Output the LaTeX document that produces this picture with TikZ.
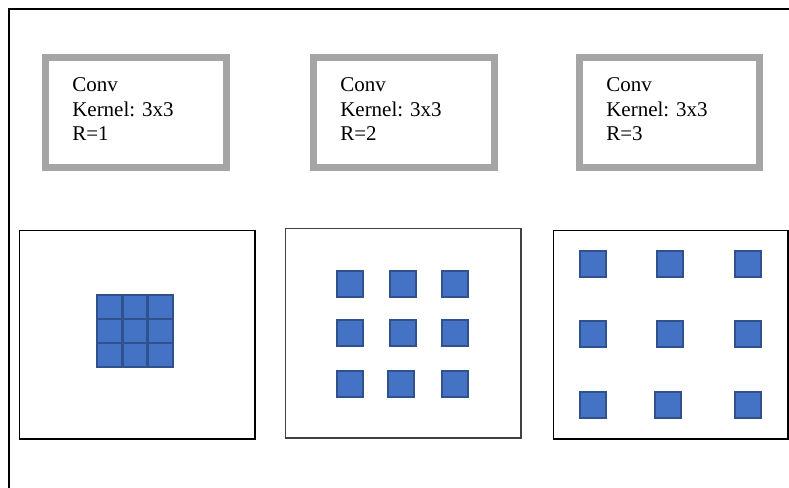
\documentclass[tikz,border=0pt]{standalone}
\usepackage{fontspec}
\setmainfont{Liberation Serif}
\definecolor{cellfill}{HTML}{4472C4}
\definecolor{celledge}{HTML}{2F528F}
\definecolor{convgray}{HTML}{A5A5A5}
\definecolor{mapedge}{HTML}{404040}
\tikzset{
  convbox/.style={draw=convgray, line width=5.25pt, fill=white},
  convtext/.style={anchor=north west, inner sep=0pt, align=left,
    font=\fontsize{15.75pt}{18.4pt}\selectfont},
  mapbox/.style={draw=black, line width=1pt},
  cell/.style={draw=celledge, fill=cellfill, line width=2pt},
}
\newcommand{\cellat}[3]{\draw[cell] (#2,#3) rectangle ++(26,26) node[coordinate] (#1) {};}
\begin{document}
\begin{tikzpicture}[x=0.75pt, y=-0.75pt]
  \useasboundingbox (0,0) rectangle (789,487);
  % open outer frame
  \draw[line width=2pt, line join=miter] (790,9) -- (9,9) -- (9,488);

  % convolution boxes
  \draw[convbox] (45.5,57.5) rectangle (226.5,167.5);
  \node[convtext] (t1) at (72,77.5) {Conv\\Kernel: 3x3\\R=1};
  \draw[convbox] (313.5,57.5) rectangle (494.5,167.5);
  \node[convtext] (t2) at (340,77.5) {Conv\\Kernel: 3x3\\R=2};
  \draw[convbox] (579.5,57.5) rectangle (759.5,167.5);
  \node[convtext] (t3) at (606,77.5) {Conv\\Kernel: 3x3\\R=3};

  % feature maps
  \draw[mapbox] (19.5,230.5) rectangle (255,439);
  \draw[mapbox, draw=mapedge] (285.5,228.5) rectangle (521,438);
  \draw[mapbox] (553.5,230.5) rectangle (788,439);

  % R=1: dense 3x3 kernel
  \foreach \i in {0,1,2}{
    \foreach \j in {0,1,2}{
      \draw[cell] ({97+25.3*\i},{295+24*\j}) rectangle ++(25.3,24);
    }
  }

  % R=2: dilated kernel
  \cellat{b11}{337}{271} \cellat{b12}{390}{271} \cellat{b13}{442}{271}
  \cellat{b21}{337}{320} \cellat{b22}{390}{320} \cellat{b23}{442}{320}
  \cellat{b31}{337}{371} \cellat{b32}{388}{371} \cellat{b33}{442}{371}

  % R=3: dilated kernel
  \cellat{c11}{580}{251} \cellat{c12}{657}{251} \cellat{c13}{735}{251}
  \cellat{c21}{580}{321} \cellat{c22}{657}{321} \cellat{c23}{735}{321}
  \cellat{c31}{580}{392} \cellat{c32}{655}{392} \cellat{c33}{735}{392}
\end{tikzpicture}
\end{document}
